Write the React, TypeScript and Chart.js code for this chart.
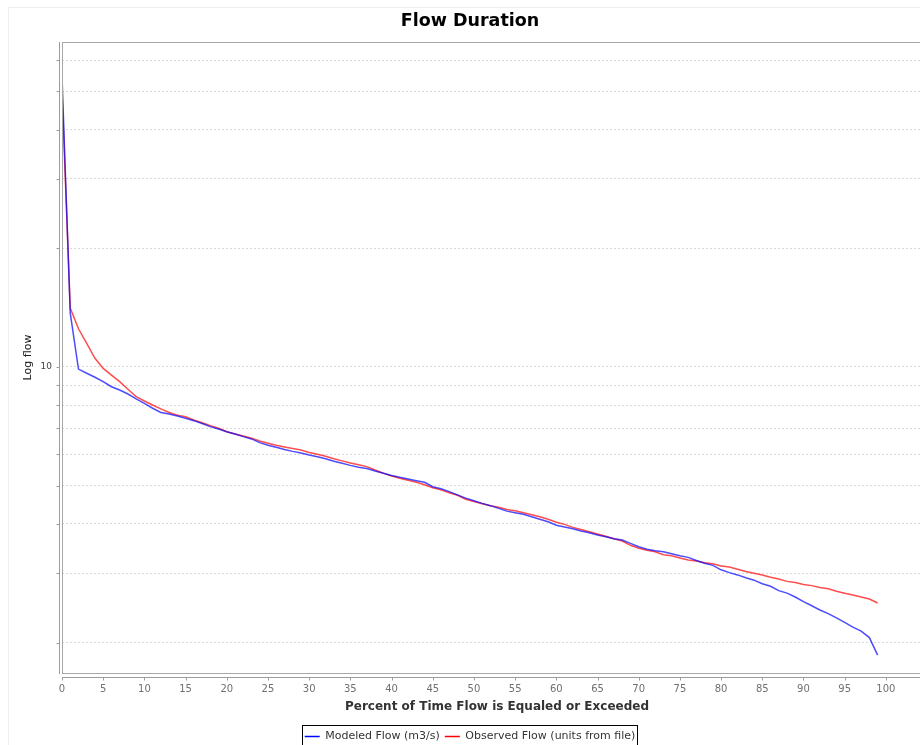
import React, { useEffect, useRef } from 'react';
import { Chart, registerables } from 'chart.js';

Chart.register(...registerables);

const chartTitle = 'Flow Duration';
const xAxisTitle = 'Percent of Time Flow is Equaled or Exceeded';
const yAxisTitle = 'Log flow';
const seriesLabels = ['Modeled Flow (m3/s)', 'Observed Flow (units from file)'];

const percentExceeded = [
  0, 1, 2, 3, 4, 5, 6, 7, 8, 9,
  10, 11, 12, 13, 14, 15, 16, 17, 18, 19,
  20, 21, 22, 23, 24, 25, 26, 27, 28, 29,
  30, 31, 32, 33, 34, 35, 36, 37, 38, 39,
  40, 41, 42, 43, 44, 45, 46, 47, 48, 49,
  50, 51, 52, 53, 54, 55, 56, 57, 58, 59,
  60, 61, 62, 63, 64, 65, 66, 67, 68, 69,
  70, 71, 72, 73, 74, 75, 76, 77, 78, 79,
  80, 81, 82, 83, 84, 85, 86, 87, 88, 89,
  90, 91, 92, 93, 94, 95, 96, 97, 98, 99,
];

const modeledFlow = [
  54.6, 13.7, 9.88, 9.64, 9.42, 9.18, 8.91, 8.74, 8.54, 8.30,
  8.09, 7.86, 7.67, 7.60, 7.51, 7.41, 7.31, 7.19, 7.06, 6.96,
  6.85, 6.76, 6.66, 6.57, 6.43, 6.33, 6.26, 6.18, 6.11, 6.05,
  5.98, 5.92, 5.85, 5.77, 5.70, 5.63, 5.57, 5.53, 5.45, 5.38,
  5.31, 5.25, 5.20, 5.15, 5.10, 4.97, 4.91, 4.83, 4.74, 4.65,
  4.58, 4.51, 4.45, 4.38, 4.31, 4.27, 4.23, 4.17, 4.11, 4.05,
  3.97, 3.93, 3.89, 3.84, 3.80, 3.75, 3.71, 3.67, 3.64, 3.57,
  3.50, 3.45, 3.42, 3.40, 3.36, 3.32, 3.29, 3.23, 3.18, 3.14,
  3.06, 3.01, 2.97, 2.92, 2.88, 2.82, 2.78, 2.71, 2.67, 2.61,
  2.54, 2.48, 2.42, 2.37, 2.31, 2.25, 2.19, 2.14, 2.06, 1.86,
];

const observedFlow = [
  50.0, 14.1, 12.5, 11.48, 10.52, 9.92, 9.54, 9.18, 8.78, 8.41,
  8.20, 8.01, 7.83, 7.67, 7.55, 7.48, 7.34, 7.22, 7.10, 6.99,
  6.85, 6.76, 6.68, 6.60, 6.49, 6.41, 6.33, 6.27, 6.21, 6.16,
  6.07, 6.01, 5.94, 5.85, 5.78, 5.71, 5.65, 5.59, 5.48, 5.38,
  5.29, 5.22, 5.16, 5.10, 5.03, 4.94, 4.88, 4.80, 4.73, 4.62,
  4.56, 4.50, 4.45, 4.41, 4.35, 4.32, 4.27, 4.22, 4.17, 4.11,
  4.04, 3.99, 3.92, 3.87, 3.82, 3.77, 3.72, 3.67, 3.62, 3.53,
  3.47, 3.43, 3.40, 3.34, 3.32, 3.28, 3.24, 3.22, 3.19, 3.17,
  3.13, 3.11, 3.07, 3.03, 3.00, 2.97, 2.93, 2.90, 2.86, 2.84,
  2.81, 2.79, 2.76, 2.74, 2.70, 2.67, 2.64, 2.61, 2.58, 2.52,
];

const xTickValues = [0, 5, 10, 15, 20, 25, 30, 35, 40, 45, 50, 55, 60, 65, 70, 75, 80, 85, 90, 95, 100];
const yTickValues = [2, 3, 4, 5, 6, 7, 8, 9, 10, 20, 30, 40, 50, 60];
const yLabeledTicks = [10];

const lineColors = ['rgba(0,0,255,0.7)', 'rgba(255,0,0,0.7)'];
const legendColors = ['#0000ff', '#ff0000'];

const framePlugin = {
  id: 'framePlugin',
  afterDraw(chart: any) {
    const { ctx, chartArea: a } = chart;
    const xs = chart.scales.x;
    const ys = chart.scales.y;
    ctx.save();
    ctx.lineWidth = 1;
    ctx.setLineDash([]);
    // plot outline
    ctx.strokeStyle = '#a8a8a8';
    ctx.strokeRect(a.left + 0.5, a.top + 0.5, a.right - a.left, a.bottom - a.top);
    // offset axis lines with tick marks
    ctx.strokeStyle = '#9c9c9c';
    const axX = a.left - 2.5;
    ctx.beginPath();
    ctx.moveTo(axX, a.top);
    ctx.lineTo(axX, a.bottom + 1);
    ys.ticks.forEach((t: any) => {
      const py = Math.round(ys.getPixelForValue(t.value)) + 0.5;
      ctx.moveTo(axX - 3, py);
      ctx.lineTo(axX, py);
    });
    ctx.stroke();
    const axY = a.bottom + 4.5;
    ctx.beginPath();
    ctx.moveTo(a.left, axY);
    ctx.lineTo(a.right, axY);
    xs.ticks.forEach((t: any) => {
      const px = Math.round(xs.getPixelForValue(t.value)) + 0.5;
      ctx.moveTo(px, axY);
      ctx.lineTo(px, axY + 3);
    });
    ctx.stroke();
    // legend frame
    const lg = chart.legend;
    if (lg && lg.legendHitBoxes && lg.legendHitBoxes.length) {
      const hb = lg.legendHitBoxes;
      const last = hb[hb.length - 1];
      const l = Math.round(hb[0].left - 3) + 0.5;
      const r = Math.round(last.left + last.width + 2) + 0.5;
      const t = Math.round(lg.top) - 0.5;
      ctx.strokeStyle = '#000000';
      ctx.strokeRect(l, t, r - l, 40);
    }
    ctx.restore();
  },
};

export default function App() {
  const canvasRef = useRef<HTMLCanvasElement | null>(null);

  useEffect(() => {
    const canvas = canvasRef.current;
    if (!canvas) return;
    const datasets = [modeledFlow, observedFlow].map((vals, i) => ({
      label: seriesLabels[i],
      data: percentExceeded.map((p, j) => ({ x: p, y: vals[j] })),
      borderColor: lineColors[i],
      backgroundColor: lineColors[i],
      borderWidth: 1.5,
      pointRadius: 0,
      tension: 0,
      fill: false,
    }));

    const chart = new Chart(canvas, {
      type: 'line',
      data: { datasets },
      plugins: [framePlugin],
      options: {
        animation: false,
        responsive: false,
        events: [],
        layout: { padding: { left: 0, right: 0, top: 0, bottom: 0 } },
        plugins: {
          tooltip: { enabled: false },
          title: {
            display: true,
            text: chartTitle,
            color: '#000000',
            font: { family: 'DejaVu Sans', size: 17.5, weight: 'bold' },
            padding: { top: 3, bottom: 10 },
          },
          legend: {
            display: true,
            position: 'bottom',
            labels: {
              usePointStyle: true,
              pointStyleWidth: 15,
              padding: 5,
              color: '#333333',
              font: { family: 'DejaVu Sans', size: 11 },
              generateLabels: (c: any) =>
                c.data.datasets.map((ds: any, i: number) => ({
                  text: ds.label,
                  strokeStyle: legendColors[i],
                  fillStyle: legendColors[i],
                  lineWidth: 1.5,
                  pointStyle: 'line',
                  hidden: false,
                  datasetIndex: i,
                  fontColor: '#333333',
                })),
            },
          },
        },
        scales: {
          x: {
            type: 'linear',
            min: 0,
            max: 105.6,
            afterBuildTicks: (s: any) => {
              s.ticks = xTickValues.map((v) => ({ value: v }));
            },
            afterFit: (s: any) => {
              s.height = 53;
            },
            ticks: {
              autoSkip: false,
              maxRotation: 0,
              padding: 10,
              color: '#707070',
              font: { family: 'DejaVu Sans', size: 10 },
            },
            grid: { display: false, drawTicks: false },
            border: { display: false },
            title: {
              display: true,
              text: xAxisTitle,
              color: '#333333',
              font: { family: 'DejaVu Sans', size: 12, weight: 'bold' },
              padding: { top: 0, bottom: 11.8 },
            },
          },
          y: {
            type: 'logarithmic',
            min: 1.675,
            max: 66.7,
            afterBuildTicks: (s: any) => {
              s.ticks = yTickValues.map((v) => ({ value: v }));
            },
            afterFit: (s: any) => {
              s.width = 54;
            },
            ticks: {
              autoSkip: false,
              padding: 10,
              color: '#444444',
              font: { family: 'DejaVu Sans', size: 9 },
              callback: (v: any) => (yLabeledTicks.includes(Number(v)) ? String(v) : ''),
            },
            grid: { color: '#d8d8d8', drawTicks: false, lineWidth: 1 },
            border: { display: false, dash: [2, 2] },
            title: {
              display: true,
              text: yAxisTitle,
              color: '#222222',
              font: { family: 'DejaVu Sans', size: 11 },
              padding: { top: 13.7, bottom: 0 },
            },
          },
        },
      } as any,
    });
    return () => chart.destroy();
  }, []);

  return (
    <div
      style={{
        position: 'fixed',
        left: 8,
        top: 7,
        width: 912,
        height: 738,
        overflow: 'hidden',
        borderTop: '1px solid #eeeeee',
        background: '#ffffff',
      }}
    >
      <canvas ref={canvasRef} width={924} height={744} style={{ display: 'block' }} />
      <div style={{ position: 'absolute', left: 0, top: 0, width: 1, height: '100%', background: '#eeeeee' }} />
    </div>
  );
}
